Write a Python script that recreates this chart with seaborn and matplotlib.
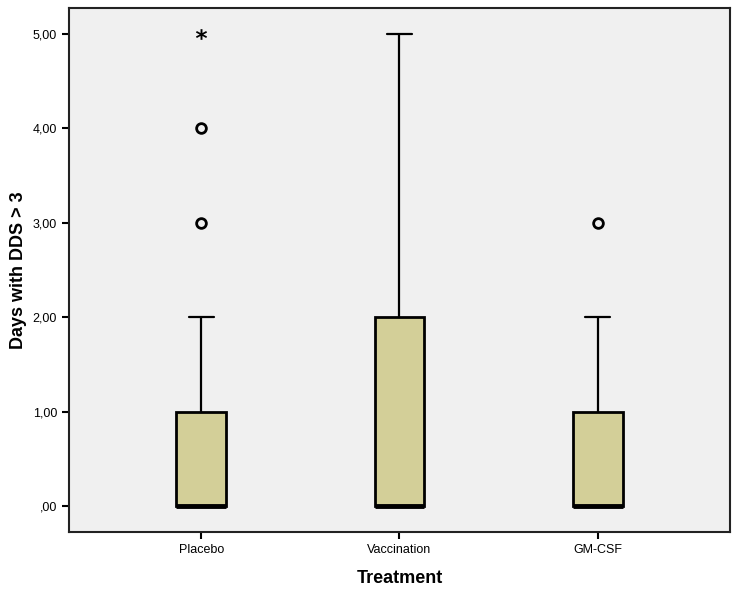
import numpy as np
import pandas as pd
import seaborn as sns
import matplotlib.pyplot as plt
from matplotlib.ticker import FuncFormatter

# days with DDS > 3 per patient, by treatment arm
groups = ["Placebo", "Vaccination", "GM-CSF"]
placebo_days = [0] * 14 + [1] * 5 + [2] * 2 + [3, 4, 5]
vaccination_days = [0] * 13 + [1] * 2 + [2] * 4 + [3] * 2 + [4] + [5] * 2
gmcsf_days = [0] * 14 + [1] * 5 + [2] * 2 + [3]
y_ticks = [0, 1, 2, 3, 4, 5]

df = pd.DataFrame({
    "Treatment": ["Placebo"] * len(placebo_days)
    + ["Vaccination"] * len(vaccination_days)
    + ["GM-CSF"] * len(gmcsf_days),
    "Days": placebo_days + vaccination_days + gmcsf_days,
})

# SPSS style: outliers beyond 1.5 IQR (circle), extremes beyond 3 IQR (star)
rows = []
for g, sub in df.groupby("Treatment"):
    q1, q3 = np.percentile(sub["Days"], [25, 75])
    iqr = q3 - q1
    for v in sub["Days"]:
        if v > q3 + 3 * iqr:
            rows.append((g, v, "extreme"))
        elif v > q3 + 1.5 * iqr:
            rows.append((g, v, "outlier"))
flier = pd.DataFrame(rows, columns=["Treatment", "Days", "kind"]).drop_duplicates()

sns.set_style("white")
plt.rcParams["font.family"] = ["Liberation Sans", "DejaVu Sans"]

fig = plt.figure(figsize=(7.37, 5.90), dpi=100)
ax = fig.add_axes([0.0936, 0.0983, 0.8969, 0.8881])
ax.set_facecolor("#F0F0F0")

sns.boxplot(
    data=df, x="Treatment", y="Days", order=groups, ax=ax,
    width=0.25, whis=1.5, showfliers=False, color="#D3CF98", saturation=1,
    linecolor="black", linewidth=2,
    whiskerprops=dict(linewidth=1.6), capprops=dict(linewidth=1.6),
    medianprops=dict(color="black", linewidth=3.5),
)
bg = "#F0F0F0"
sns.stripplot(
    data=flier[flier["kind"] == "outlier"], x="Treatment", y="Days",
    order=groups, jitter=False, ax=ax, marker="o", size=7,
    color=bg, edgecolor="black", linewidth=2, zorder=5,
)
sns.stripplot(
    data=flier[flier["kind"] == "extreme"], x="Treatment", y="Days",
    order=groups, jitter=False, ax=ax, marker=r"$\mathbf{*}$", size=8,
    color="black", linewidth=0, zorder=5,
)

ax.set_xlim(-0.667, 2.667)
ax.set_ylim(-0.275, 5.275)
ax.set_yticks(y_ticks)
ax.yaxis.set_major_formatter(FuncFormatter(
    lambda v, p: ",00" if v == 0 else f"{v:.2f}".replace(".", ",")))
ax.tick_params(axis="both", direction="out", length=5, width=1.5,
               colors="black", labelsize=9, left=True, bottom=True)
for s in ax.spines.values():
    s.set_color("#222222")
    s.set_linewidth(1.5)

ax.set_xlabel("Treatment", fontsize=13, fontweight="bold", labelpad=10,
              color="black")
ax.set_ylabel("Days with DDS > 3", fontsize=13, fontweight="bold",
              labelpad=4, color="black")

fig.savefig("out.png", dpi=100, facecolor="white")
